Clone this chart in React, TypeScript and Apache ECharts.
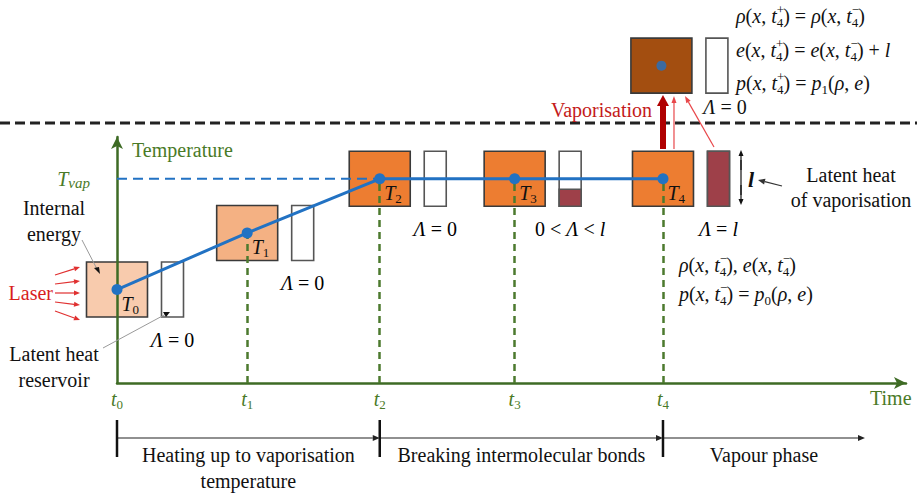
import React, { useEffect, useRef } from 'react';
import * as echarts from 'echarts';

// ---- data ----
const timeIndices = ['0', '1', '2', '3', '4'];
const times = [0, 16.5, 33.3, 50.4, 69.2];
const temperatures = [38, 61, 83, 83, 83];
const T_VAP = 83;
const reservoirFill = [0, 0, 0, 0.31, 1];
const lambdaLabels = ['Λ = 0', 'Λ = 0', 'Λ = 0', '0 < Λ < l', 'Λ = l'];
const vapourState = [69.0, 129];
const vapourFill = 0;
const phaseLabels = ['Heating up to vaporisation\ntemperature', 'Breaking intermolecular bonds', 'Vapour phase'];
const phaseBounds = [0, 33.3, 69.2, 94.8];
const X_MAX = 100;
const Y_MAX = 100;

// ---- styles ----
const FONT = 'Liberation Serif';
const GREEN = '#3E6B25';
const GREEN_TXT = '#4A7A27';
const BLUE = '#2272C3';
const boxColors = ['#F8CBAD', '#F4B183', '#ED7D31', '#ED7D31', '#ED7D31'];
const VAPOUR_COLOR = '#A34E10';
const FILL_COLOR = '#9E4049';
const RED = '#D81E1E';

const makeRich = (color = '#111'): any => ({
  n: { fontFamily: FONT, fontSize: 20, color, lineHeight: 26 },
  i: { fontFamily: FONT, fontSize: 20, fontStyle: 'italic', color, lineHeight: 26 },
  sub: { fontFamily: FONT, fontSize: 13, color, verticalAlign: 'bottom', lineHeight: 14 },
  sup: { fontFamily: FONT, fontSize: 13, color, verticalAlign: 'top', lineHeight: 14, width: 0, align: 'left' },
});

const italicChars = new Set(['Λ', 'l', 'x', 't', 'ρ', 'e', 'p', 'T']);
function mathRich(s: string): string {
  let out = '';
  for (const ch of s) {
    out += italicChars.has(ch) ? `{i|${ch}}` : `{n|${ch}}`;
  }
  return out;
}
const I = (s: string) => `{i|${s}}`;
const N = (s: string) => `{n|${s}}`;
const t4 = (sign: string) => `${I('t')}{sup|${sign}}{sub|4}`;

function arrow(x1: number, y1: number, x2: number, y2: number, color: string, lw: number, hl: number, hw: number, z = 10): any[] {
  const ang = Math.atan2(y2 - y1, x2 - x1);
  const bx = x2 - hl * Math.cos(ang);
  const by = y2 - hl * Math.sin(ang);
  const nx = (-Math.sin(ang) * hw) / 2;
  const ny = (Math.cos(ang) * hw) / 2;
  return [
    { type: 'line', shape: { x1, y1, x2: bx, y2: by }, style: { stroke: color, lineWidth: lw }, z },
    { type: 'polygon', shape: { points: [[x2, y2], [bx + nx, by + ny], [bx - nx, by - ny]] }, style: { fill: color }, z },
  ];
}

function text(x: number, y: number, t: string, extra: any = {}): any {
  return {
    type: 'text',
    x,
    y,
    z: 20,
    style: {
      text: t,
      fontFamily: FONT,
      fontSize: 20,
      fill: '#111',
      align: 'center',
      verticalAlign: 'middle',
      lineHeight: 26,
      ...extra,
    },
  };
}
const mtext = (x: number, y: number, t: string, extra: any = {}) => text(x, y, t, { rich: makeRich(), ...extra });

export default function App() {
  const ref = useRef<HTMLDivElement>(null);
  useEffect(() => {
    if (!ref.current) return;
    document.body.style.fontFamily = '"Liberation Serif", serif';
    const chart = echarts.init(ref.current, null, { renderer: 'svg' });
    const points = times.map((t, i) => [t, temperatures[i]]);
    const boxData = times.map((t, i) => [t, temperatures[i], reservoirFill[i], i]);

    const renderBox = (params: any, api: any, colors: string[], withLambda: boolean) => {
      const idx = api.value(3);
      const [cx, cy] = api.coord([api.value(0), api.value(1)]);
      const fill = api.value(2);
      const bw = 61, bh = 55, rw = 22, gap = 14;
      const bx = cx - bw / 2, by = cy - bh / 2;
      const rx = bx + bw + gap;
      const children: any[] = [
        { type: 'rect', shape: { x: bx, y: by, width: bw, height: bh }, style: { fill: colors[idx], stroke: '#3a3a3a', lineWidth: 1.6 } },
        { type: 'rect', shape: { x: rx, y: by, width: rw, height: bh }, style: { fill: '#fff', stroke: '#555', lineWidth: 1.6 } },
      ];
      if (fill > 0) {
        children.push({
          type: 'rect',
          shape: { x: rx, y: by + bh * (1 - fill), width: rw, height: bh * fill },
          style: { fill: FILL_COLOR, stroke: '#555', lineWidth: 1.6 },
        });
      }
      if (withLambda) {
        children.push({
          type: 'text',
          x: rx + rw / 2,
          y: cy + 50,
          style: {
            text: mathRich(lambdaLabels[idx]),
            align: 'center',
            verticalAlign: 'middle',
            fontFamily: FONT,
            fontSize: 20,
            rich: {
              n: { fontFamily: FONT, fontSize: 20 },
              i: { fontFamily: FONT, fontSize: 20, fontStyle: 'italic' },
            },
          },
        });
      }
      return { type: 'group', children };
    };

    const option: any = {
      animation: false,
      backgroundColor: '#fff',
      textStyle: { fontFamily: FONT },
      grid: { left: 117, top: 137, width: 789, height: 246, containLabel: false },
      xAxis: {
        type: 'value',
        min: 0,
        max: X_MAX,
        z: 3,
        axisLine: { show: true, symbol: ['none', 'arrow'], symbolSize: [9, 12], lineStyle: { color: GREEN, width: 2.5 } },
        axisTick: { show: false },
        splitLine: { show: false },
        axisLabel: {
          customValues: times,
          margin: 4,
          fontFamily: FONT,
          formatter: (v: number) => {
            const k = times.indexOf(v);
            return `{t|t}{s|${timeIndices[k]}}`;
          },
          rich: {
            t: { fontFamily: FONT, fontSize: 20, fontStyle: 'italic', color: GREEN_TXT, lineHeight: 24 },
            s: { fontFamily: FONT, fontSize: 13, color: GREEN_TXT, verticalAlign: 'bottom', lineHeight: 14 },
          },
        },
      },
      yAxis: {
        type: 'value',
        min: 0,
        max: Y_MAX,
        z: 3,
        axisLine: { show: true, symbol: ['none', 'arrow'], symbolSize: [9, 12], lineStyle: { color: GREEN, width: 2.5 } },
        axisTick: { show: false },
        splitLine: { show: false },
        axisLabel: {
          customValues: [T_VAP],
          margin: 27,
          fontFamily: FONT,
          formatter: () => '{t|T}{s|vap}',
          rich: {
            t: { fontFamily: FONT, fontSize: 20, fontStyle: 'italic', color: GREEN_TXT, lineHeight: 24 },
            s: { fontFamily: FONT, fontSize: 15, fontStyle: 'italic', color: GREEN_TXT, verticalAlign: 'bottom', lineHeight: 16 },
          },
        },
      },
      series: [
        {
          type: 'custom',
          name: 'states',
          z: 1,
          clip: false,
          renderItem: (p: any, api: any) => renderBox(p, api, boxColors, true),
          data: boxData,
        },
        {
          type: 'custom',
          name: 'vapour',
          z: 1,
          clip: false,
          renderItem: (p: any, api: any) => renderBox(p, api, [VAPOUR_COLOR], false),
          data: [[vapourState[0], vapourState[1], vapourFill, 0]],
        },
        {
          type: 'scatter',
          name: 'vapourDot',
          z: 5,
          clip: false,
          symbol: 'circle',
          symbolSize: 10,
          itemStyle: { color: BLUE },
          data: [vapourState],
        },
        {
          type: 'line',
          name: 'Tvap',
          z: 4,
          symbol: 'none',
          lineStyle: { color: BLUE, width: 2, type: [10, 6] },
          data: [[0, T_VAP], [times[2], T_VAP]],
        },
        {
          type: 'line',
          name: 'temperature',
          z: 5,
          symbol: 'circle',
          symbolSize: 11,
          itemStyle: { color: BLUE },
          lineStyle: { color: BLUE, width: 3 },
          data: points,
          label: {
            show: true,
            position: [10, 8],
            align: 'left',
            verticalAlign: 'top',
            fontFamily: FONT,
            formatter: (p: any) => `{t|T}{s|${timeIndices[p.dataIndex]}}`,
            rich: {
              t: { fontFamily: FONT, fontSize: 20, fontStyle: 'italic', color: '#111', lineHeight: 24 },
              s: { fontFamily: FONT, fontSize: 13, color: '#111', verticalAlign: 'bottom', lineHeight: 14 },
            },
          },
          markLine: {
            silent: true,
            symbol: 'none',
            label: { show: false },
            lineStyle: { color: '#4C7A2E', width: 2.5, type: [7, 5] },
            data: times.slice(1).map((t, k) => [
              { coord: [t, 0] },
              { coord: [t, temperatures[k + 1]] },
            ]),
          },
        },
      ],
    };
    chart.setOption(option);

    const px = (v: number) => chart.convertToPixel({ xAxisIndex: 0 }, v) as number;
    const x0 = px(phaseBounds[0]);
    const x2 = px(phaseBounds[1]);
    const x4 = px(phaseBounds[2]);
    const xEnd = px(phaseBounds[3]);
    const tlY = 438;

    const g: any[] = [];
    g.push({ type: 'line', shape: { x1: 0, y1: 123, x2: 917, y2: 123 }, style: { stroke: '#222', lineWidth: 3, lineDash: [10, 5] }, z: 2 });
    g.push(text(132, 150, 'Temperature', { align: 'left', fill: GREEN_TXT }));
    g.push(text(870, 398, 'Time', { align: 'left', fill: GREEN_TXT }));
    g.push(text(54, 221, 'Internal\nenergy'));
    g.push(...arrow(82, 240, 98, 271, '#9a9a9a', 1, 0.1, 0.1));
    g.push({ type: 'polygon', shape: { points: [[100, 274], [94, 268], [99, 267]] }, style: { fill: '#111' }, z: 10 });
    g.push(text(53, 293, 'Laser', { align: 'right', fill: RED }));
    const laserStarts = [[55, 275], [55, 284], [55, 293], [55, 302], [55, 311]];
    const laserEnds = [[80, 267], [80, 281], [80, 293], [80, 305], [80, 320]];
    laserStarts.forEach((s, k) => g.push(...arrow(s[0], s[1], laserEnds[k][0], laserEnds[k][1], '#E03030', 1.2, 6, 5)));
    g.push(text(54, 367, 'Latent heat\nreservoir'));
    g.push(...arrow(103, 348, 166, 314, '#9a9a9a', 1, 0.1, 0.1));
    g.push({ type: 'polygon', shape: { points: [[170, 312], [163, 312], [166, 317]] }, style: { fill: '#111' }, z: 10 });

    g.push(text(652, 110, 'Vaporisation', { align: 'right', fill: '#C41A1A' }));
    const xv = px(times[4]);
    g.push(...arrow(xv, 149, xv, 95, '#B00000', 6, 11, 12));
    g.push(...arrow(xv + 11, 149, xv + 11, 96, '#E8474A', 1.2, 7, 5));
    g.push(...arrow(xv + 51, 147, xv + 22, 96, '#E8474A', 1.2, 7, 5));
    g.push(mtext(725, 107, mathRich('Λ = 0')));

    const eq1 = `${I('ρ')}${N('(')}${I('x')}${N(', ')}${t4('+')}${N(') = ')}${I('ρ')}${N('(')}${I('x')}${N(', ')}${t4('−')}${N(')')}`;
    const eq2 = `${I('e')}${N('(')}${I('x')}${N(', ')}${t4('+')}${N(') = ')}${I('e')}${N('(')}${I('x')}${N(', ')}${t4('−')}${N(') + ')}${I('l')}`;
    const eq3 = `${I('p')}${N('(')}${I('x')}${N(', ')}${t4('+')}${N(') = ')}${I('p')}{sub|1}${N('(')}${I('ρ')}${N(', ')}${I('e')}${N(')')}`;
    g.push(mtext(736, 16, eq1, { align: 'left' }));
    g.push(mtext(736, 50, eq2, { align: 'left' }));
    g.push(mtext(736, 83, eq3, { align: 'left' }));

    g.push(...arrow(741, 170, 741, 150, '#111', 1.2, 6, 5));
    g.push(...arrow(741, 185, 741, 205, '#111', 1.2, 6, 5));
    g.push({ type: 'line', shape: { x1: 741, y1: 160, x2: 741, y2: 195 }, style: { stroke: '#111', lineWidth: 1.2 }, z: 10 });
    g.push(text(751, 179, 'l', { fontStyle: 'italic', fontWeight: 'bold', fontSize: 22 }));
    g.push(...arrow(782, 186, 758, 180, '#333', 1.2, 7, 6));
    g.push(text(851, 175, 'Latent heat'));
    g.push(text(851, 200, 'of vaporisation'));

    const eq4 = `${I('ρ')}${N('(')}${I('x')}${N(', ')}${t4('−')}${N('), ')}${I('e')}${N('(')}${I('x')}${N(', ')}${t4('−')}${N(')')}`;
    const eq5 = `${I('p')}${N('(')}${I('x')}${N(', ')}${t4('−')}${N(') = ')}${I('p')}{sub|0}${N('(')}${I('ρ')}${N(', ')}${I('e')}${N(')')}`;
    g.push(mtext(679, 265, eq4, { align: 'left' }));
    g.push(mtext(679, 294, eq5, { align: 'left' }));

    g.push(...arrow(x0, tlY, x2, tlY, '#222', 1.2, 7, 6));
    g.push(...arrow(x2, tlY, x4, tlY, '#222', 1.2, 7, 6));
    g.push(...arrow(x4, tlY, xEnd, tlY, '#222', 1.2, 7, 6));
    [x0, x2, x4].forEach((x) => g.push({ type: 'line', shape: { x1: x, y1: 420, x2: x, y2: 457 }, style: { stroke: '#111', lineWidth: 2.5 }, z: 10 }));
    g.push(text((x0 + x2) / 2, 468, phaseLabels[0]));
    g.push(text((x2 + x4) / 2, 455, phaseLabels[1]));
    g.push(text((x4 + xEnd) / 2, 455, phaseLabels[2]));

    chart.setOption({ graphic: { elements: g } });
    return () => chart.dispose();
  }, []);
  return (
    <div style={{ position: 'absolute', left: 0, top: 0, width: 917, height: 495, fontFamily: '"Liberation Serif", serif' }}>
      <div ref={ref} style={{ position: 'absolute', left: 0, top: 0, width: 917, height: 495 }} />
    </div>
  );
}
